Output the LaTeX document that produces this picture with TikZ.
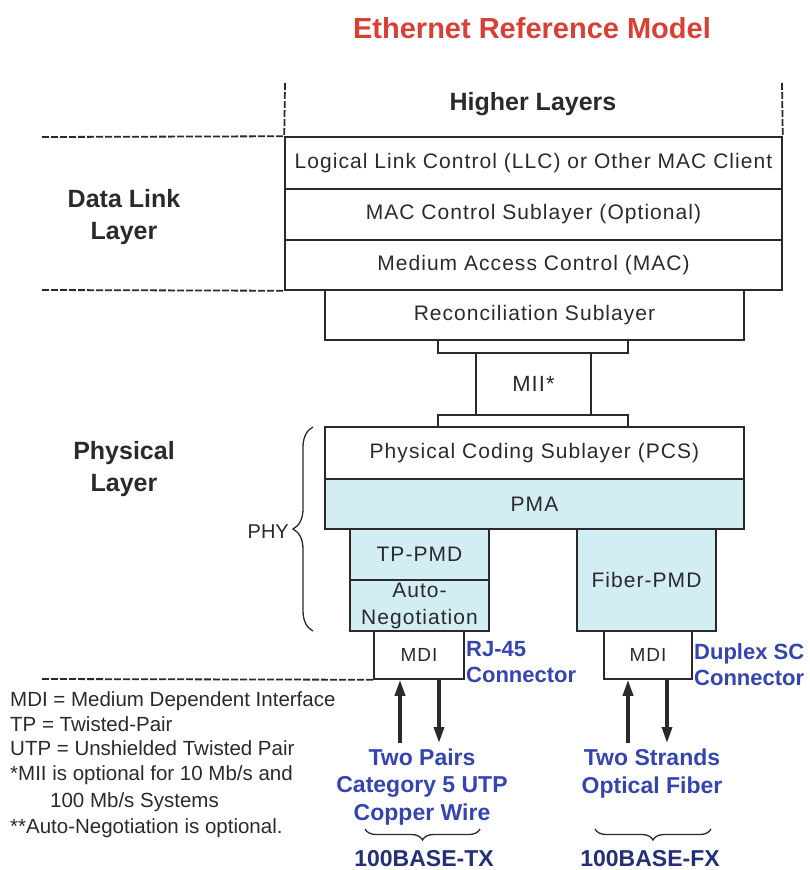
\documentclass[tikz,border=0pt]{standalone}
\usepackage{fontspec}
\setmainfont{Liberation Sans}
\newfontfamily\spaced[LetterSpace=5]{Liberation Sans}
\usetikzlibrary{arrows.meta,decorations.pathreplacing}
\definecolor{titlered}{HTML}{D94035}
\definecolor{lblue}{HTML}{3445B0}
\definecolor{dblue}{HTML}{232F78}
\definecolor{pmablue}{HTML}{D3EDF5}
\definecolor{ink}{HTML}{2A2A2A}
\begin{document}
\begin{tikzpicture}[x=1pt,y=-1pt,
  box/.style={draw=ink, line width=1.5pt, inner sep=0pt, text=ink, font=\spaced\fontsize{21}{25}\selectfont},
  pbox/.style={box, fill=pmablue},
  dline/.style={draw=ink, line width=1.8pt, dash pattern=on 7pt off 2pt},
  heading/.style={text=ink, font=\bfseries\fontsize{25}{32}\selectfont, align=center},
  bluelbl/.style={text=lblue, font=\bfseries\fontsize{22}{26}\selectfont, align=left, anchor=west, inner sep=0pt},
  bluectr/.style={text=lblue, font=\bfseries\fontsize{23}{27.5}\selectfont, align=center},
  legend/.style={text=ink, font=\fontsize{20.5}{24}\selectfont, anchor=base west, inner sep=0pt},
  bigarrow/.style={draw=ink, line width=3.4pt, -{Triangle[length=16pt,width=10pt]}},
  brace/.style={draw=ink, line width=1.3pt, decorate, decoration={brace, amplitude=#1}},
  std/.style={text=dblue, font=\bfseries\fontsize{23}{25}\selectfont, anchor=base, inner sep=0pt}
]
\useasboundingbox (0,0) rectangle (810,870);

\node[text=titlered, font=\bfseries\fontsize{29}{32}\selectfont] (title) at (532,28) {Ethernet Reference Model};

% Data link boxes
\node[heading] (higher) at (533,104) {Higher Layers};
\node[box, minimum width=497pt, minimum height=52pt] (llc) at (533.5,163) {Logical Link Control (LLC) or Other MAC Client};
\node[box, minimum width=497pt, minimum height=51pt] (macctl) at (533.5,214.5) {MAC Control Sublayer (Optional)};
\node[box, minimum width=497pt, minimum height=50pt] (mac) at (533.5,265) {Medium Access Control (MAC)};
\node[box, minimum width=419pt, minimum height=50pt] (recon) at (534.5,315) {Reconciliation Sublayer};
\node[box, minimum width=190pt, minimum height=13pt] (upbar) at (533,346.5) {};
\node[box, minimum width=115pt, minimum height=62pt, font=\spaced\fontsize{22}{25}\selectfont] (mii) at (533.5,384) {MII*};
\node[box, minimum width=190pt, minimum height=12pt] (lowbar) at (533,421) {};
\node[box, minimum width=419pt, minimum height=52pt] (pcs) at (534.5,453) {Physical Coding Sublayer (PCS)};
\node[pbox, minimum width=419pt, minimum height=50pt] (pma) at (534.5,504) {PMA};
\node[pbox, minimum width=139pt, minimum height=51pt] (tppmd) at (419.5,554.5) {TP-PMD};
\node[pbox, minimum width=139pt, minimum height=51pt] (autoneg) at (419.5,605.5) {};
\node[text=ink, font=\spaced\fontsize{21}{27}\selectfont, align=center] (autotxt) at (419.5,605.5) {Auto-\\Negotiation};
\node[pbox, minimum width=139pt, minimum height=102pt] (fiber) at (646.5,580) {Fiber-PMD};
\node[box, minimum width=90pt, minimum height=48pt, font=\spaced\fontsize{19}{22}\selectfont] (mdi1) at (419,655) {MDI};
\node[box, minimum width=88pt, minimum height=48pt, font=\spaced\fontsize{19}{22}\selectfont] (mdi2) at (648,655) {MDI};

% dashed lines
\coordinate (hlt) at (285,83);
\coordinate (hrt) at (782,83);
\coordinate (d1) at (42,137);
\coordinate (d2) at (42,290);
\coordinate (d3) at (42,679);
\draw[dline] (hlt) -- (llc.north west);
\draw[dline] (hrt) -- (llc.north east);
\draw[dline] (d1) -- (llc.north west);
\draw[dline] (d2) -- (mac.south west);
\draw[dline] (d3) -- (mdi1.south west);

% side labels
\node[heading] (dll) at (124,217) {Data Link\\Layer};
\node[heading] (phl) at (124,469) {Physical\\Layer};

% PHY brace
\coordinate (bb) at (313,631);
\coordinate (bt) at (313,427);
\draw[brace=20pt] (bb) -- (bt);
\node[text=ink, font=\fontsize{20}{23}\selectfont, anchor=east, inner sep=0pt] (phy) at (289,532) {PHY};

% connector labels
\node[bluelbl] (rj) at (466,662) {RJ-45\\Connector};
\node[bluelbl] (dsc) at (694,665) {Duplex SC\\Connector};

% arrows
\coordinate (a1) at (400,743);
\coordinate (a2) at (439,743);
\coordinate (a3) at (628,743);
\coordinate (a4) at (667,743);
\draw[bigarrow] (a1) -- (a1 |- mdi1.south);
\draw[bigarrow] (a2 |- mdi1.south) -- (a2);
\draw[bigarrow] (a3) -- (a3 |- mdi2.south);
\draw[bigarrow] (a4 |- mdi2.south) -- (a4);

% media labels
\node[bluectr] (copper) at (422,787) {Two Pairs\\Category 5 UTP\\Copper Wire};
\node[bluectr] (fibre) at (652,773.5) {Two Strands\\Optical Fiber};

% bottom braces
\coordinate (b1r) at (480,829);
\coordinate (b1l) at (365,829);
\coordinate (b2r) at (711,829);
\coordinate (b2l) at (595,829);
\draw[brace=11pt] (b1r) -- (b1l);
\draw[brace=11pt] (b2r) -- (b2l);
\node[std] (tx) at (424,866) {100BASE-TX};
\node[std] (fx) at (650,866) {100BASE-FX};

% legend
\node[legend] (l1) at (10,706) {MDI = Medium Dependent Interface};
\node[legend] (l2) at (10,731) {TP = Twisted-Pair};
\node[legend] (l3) at (10,755) {UTP = Unshielded Twisted Pair};
\node[legend] (l4) at (10,780) {*MII is optional for 10 Mb/s and};
\node[legend] (l5) at (50,807) {100 Mb/s Systems};
\node[legend] (l6) at (10,833) {**Auto-Negotiation is optional.};
\end{tikzpicture}
\end{document}
